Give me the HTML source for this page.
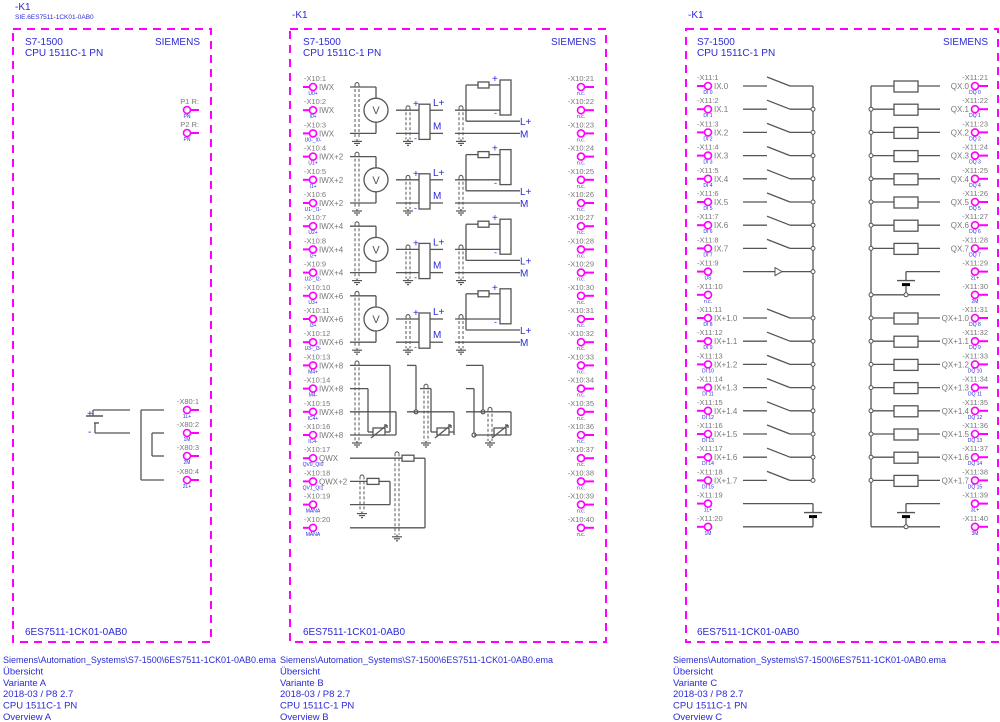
<!DOCTYPE html>
<html><head><meta charset="utf-8"><style>
html,body{margin:0;padding:0;background:#fff}
svg{display:block}
text{font-family:"Liberation Sans",sans-serif}
</style></head><body>
<svg id="s" xmlns="http://www.w3.org/2000/svg" width="1000" height="722" viewBox="0 0 1000 722"></svg>
<script>
const out=[];const B='#2a2ad6',G='#777',W='#555',M='#ff00ff';
function L(a,b,c,d,col,w){out.push(`<line x1="${a}" y1="${b}" x2="${c}" y2="${d}" stroke="${col||W}" stroke-width="${w||1.3}"/>`);}
function T(x,y,t,s,f,a,extra){out.push(`<text x="${x}" y="${y}" font-size="${s}" fill="${f}" text-anchor="${a||'start'}" ${extra||''}>${t}</text>`);}
function C(x,y,r,st,fi,w){out.push(`<circle cx="${x}" cy="${y}" r="${r}" stroke="${st}" fill="${fi||'#fff'}" stroke-width="${w||1.6}"/>`);}
function R(x,y,w,h){out.push(`<rect x="${x}" y="${y}" width="${w}" height="${h}" fill="#fff" stroke="${W}" stroke-width="1.3"/>`);}
function gnd(x,y){L(x,y-2,x,y);L(x-5,y,x+5,y,W,1.2);L(x-3,y+2,x+3,y+2,W,1.2);L(x-1,y+4,x+1,y+4,W,1.2);}
function shield(x,y1,y2){out.push(`<line x1="${x}" y1="${y1}" x2="${x}" y2="${y2}" stroke="${W}" stroke-dasharray="3,2"/><line x1="${x+4}" y1="${y1}" x2="${x+4}" y2="${y2}" stroke="${W}" stroke-dasharray="3,2"/><path d="M${x} ${y1} Q${x+2} ${y1-3} ${x+4} ${y1}" fill="none" stroke="${W}"/>`);gnd(x+2,y2+2);}
function box(x1,y1,x2,y2){out.push(`<rect x="${x1}" y="${y1}" width="${x2-x1}" height="${y2-y1}" fill="none" stroke="${M}" stroke-width="2" stroke-dasharray="8,6"/>`);}
T(15,10,'-K1',10,B);T(15,19,'SIE.6ES7511-1CK01-0AB0',6.5,B);
T(292,18,'-K1',10,B);T(688,18,'-K1',10,B);
box(13,29,211,642);box(290,29,606,642);box(686,29,998,642);
[[25,200],[303,596],[697,988]].forEach(([l,r])=>{T(l,45,'S7-1500',10,B);T(l,56,'CPU 1511C-1 PN',10,B);T(r,45,'SIEMENS',10,B,'end');T(l,635,'6ES7511-1CK01-0AB0',10,B);});
[[3,'A'],[280,'B'],[673,'C']].forEach(([x,v])=>{const ls=['Siemens\\Automation_Systems\\S7-1500\\6ES7511-1CK01-0AB0.ema','Übersicht','Variante '+v,'2018-03 / P8 2.7','CPU 1511C-1 PN','Overview '+v];ls.forEach((t,i)=>T(x,663+i*11.4,t,9.5,B,'start',i==0?'textLength="273" lengthAdjust="spacingAndGlyphs"':''));});
function termR(cx,y,lab,small,xe){L(cx+3.5,y,xe,y,M,2);C(cx,y,3.5,M);T(xe,y-6,lab,7.5,G,'end');T(cx,y+8,small,5,B,'middle');}
termR(187,110,'P1 R:','PN',199);termR(187,133,'P2 R:','PN',199);
const xa=[410,433,456,480],xl=['1L+','1M','2M','2L+'];
xa.forEach((y,i)=>termR(187,y,'-X80:'+(i+1),xl[i],199));
T(87,417,'+',10,B);T(88,435,'-',10,B);
L(93,410,130,410);L(93,410,93,416);L(86,416,103,416,W,1.4);L(94,423,99,423,W,1.4);L(95,423,95,433);L(95,433,130,433);
L(141,410,164,410);L(141,410,141,480);L(141,480,164,480);L(152,433,164,433);L(152,433,152,456);L(152,456,164,456);
const yr=r=>87+(r-1)*23.2;
const bs=['U0+','I0+','U0-_I0-','U1+','I1+','U1-_I1-','U2+','I2+','U2-_I2-','U3+','I3+','U3-_I3-','M4+','M4-','IC4+','IC4-','QV0_QI0','QV1_QI1','MANA','MANA'];
const bn=['IWX','IWX','IWX','IWX+2','IWX+2','IWX+2','IWX+4','IWX+4','IWX+4','IWX+6','IWX+6','IWX+6','IWX+8','IWX+8','IWX+8','IWX+8','QWX','QWX+2','',''];
for(let r=1;r<=20;r++){const y=yr(r);L(303,y,309.5,y,M,2);C(313,y,3.5,M);T(304,y-6,'-X10:'+r,7.5,G);T(313,y+8,bs[r-1],5,B,'middle');T(319,y+3,bn[r-1],8,G);
 const y2=y;L(584.5,y2,594,y2,M,2);C(581,y2,3.5,M);T(594,y2-6,'-X10:'+(r+20),7.5,G,'end');T(581,y2+8,'n.c.',5,B,'middle');}
for(let g=0;g<4;g++){const y1=yr(3*g+1),y2=yr(3*g+2),y3=yr(3*g+3);
 L(350,y1,376,y1);L(376,y1,376,y2-12);C(376,y2,12,W,'#fff',1.3);T(376,y2+4,'V',11,W,'middle');L(376,y2+12,376,y3);L(350,y3,376,y3);shield(355,y1-3,y3+6);
 L(396,y2,419,y2);L(396,y3,419,y3);R(419,y2-6,11,y3-y2+12);L(430,y2,443,y2);L(430,y3,443,y3);T(413,y2-3,'+',10,B);T(414,y3+8,'-',9,B);T(433,y2-4,'L+',10,B);T(433,y3-4,'M',10,B);shield(406,y2-3,y3+6);
 L(455,y2,500,y2);L(455,y3,520,y3);R(500,y1-7,11,35);L(466,y1-2,478,y1-2);R(478,y1-5,11,6);L(489,y1-2,500,y1-2);L(466,y1-2,466,y2+11);L(466,y2+11,520,y2+11);T(492,y1-5,'+',10,B);T(494,y2+6,'-',9,B);T(520,y2+15,'L+',10,B);T(520,y3+4,'M',10,B);shield(459,y2-3,y3+6);}
const a=yr(13),b=yr(14),c=yr(15),d=yr(16);
function rtd(x,y){R(x,y-4,12,7);L(x-2,y+6,x+14,y-7);L(x+14,y-7,x+11,y-7);L(x+14,y-7,x+14,y-4);}
L(350,a,390,a);L(390,a,390,d-3);L(350,b,368,b);L(368,b,368,d-3);L(368,d-3,373,d-3);L(385,d-3,390,d-3);L(350,c,396,c);L(396,c,396,d);L(350,d,396,d);rtd(373,d-3);shield(355,a-3,d+6);
L(407,a,416,a);L(416,a,416,c);C(416,c,2,W,'#fff',1.2);L(407,c,454,c);L(454,c,454,d);L(431,b,431,d-3);L(431,d-3,437,d-3);L(449,d-3,454,d-3);L(420,b,431,b);rtd(437,d-3);shield(424,b-3,d+6);
L(466,a,483,a);L(483,a,483,c);C(483,c,2,W,'#fff',1.2);L(466,b,474,b);L(474,b,474,d);C(474,d,2,W,'#fff',1.2);L(466,c,511,c);L(511,c,511,d);L(474,d,494,d);L(506,d,511,d);rtd(494,d-3);shield(488,c-3,d+6);
const e=yr(17),f=yr(18),h=yr(19),k=yr(20);
L(350,e,402,e);R(402,e-3,12,6);L(414,e,425,e);L(425,e,425,k);L(350,k,425,k);shield(395,e-5,k+7);
L(350,f,367,f);R(367,f-3,12,6);L(379,f,390,f);L(390,f,390,h);L(350,h,390,h);shield(360,f-5,h+7);
const yc=r=>86+(r-1)*23.2;
const dl=['DI 0','DI 1','DI 2','DI 3','DI 4','DI 5','DI 6','DI 7','US','n.c.','DI 8','DI 9','DI 10','DI 11','DI 12','DI 13','DI 14','DI 15','1L+','1M'];
const dn=['IX.0','IX.1','IX.2','IX.3','IX.4','IX.5','IX.6','IX.7','','','IX+1.0','IX+1.1','IX+1.2','IX+1.3','IX+1.4','IX+1.5','IX+1.6','IX+1.7','',''];
const ql=['DQ 0','DQ 1','DQ 2','DQ 3','DQ 4','DQ 5','DQ 6','DQ 7','2L+','2M','DQ 8','DQ 9','DQ 10','DQ 11','DQ 12','DQ 13','DQ 14','DQ 15','3L+','3M'];
const qn=['QX.0','QX.1','QX.2','QX.3','QX.4','QX.5','QX.6','QX.7','','','QX+1.0','QX+1.1','QX+1.2','QX+1.3','QX+1.4','QX+1.5','QX+1.6','QX+1.7','',''];
L(813,yc(1),813,yc(18));L(871,yc(1),871,yc(20));
for(let r=1;r<=20;r++){const y=yc(r);L(697,y,704.5,y,M,2);C(708,y,3.5,M);T(697,y-6,'-X11:'+r,7.5,G);T(708,y+8,dl[r-1],5,B,'middle');T(714,y+3,dn[r-1],8,G);
 L(978.5,y,988,y,M,2);C(975,y,3.5,M);T(988,y-6,'-X11:'+(r+20),7.5,G,'end');T(975,y+8,ql[r-1],5,B,'middle');T(969,y+3,qn[r-1],8,G,'end');
 if(dn[r-1]){L(743,y,767,y);L(767,y-9,790,y);L(790,y,813,y);if(r>1)C(813,y,2,W,'#fff',1);}
 if(qn[r-1]){L(871,y,894,y);R(894,y-5,24,11);L(918,y,940,y);if(r>1)C(871,y,2,W,'#fff',1);}}
const y9=yc(9);L(743,y9,813,y9);out.push(`<path d="M775 ${y9-4} L782 ${y9} L775 ${y9+4} Z" fill="#fff" stroke="${W}"/>`);C(813,y9,2,W,'#fff',1);
function batt(x,yt,yb){L(x,yt,x,yt+9);L(x-9,yt+9,x+9,yt+9,W,1.4);L(x-4,yt+13,x+4,yt+13,'#000',3);L(x,yt+14,x,yb);}
const y29=yc(9),y30=yc(10);L(940,y29,906,y29);batt(906,y29,y30);L(871,y30,940,y30);C(906,y30,2,W,'#fff',1);C(871,y30,2,W,'#fff',1);
const y19=yc(19),y20=yc(20);L(743,y19,813,y19);batt(813,y19,y20);L(743,y20,813,y20);
L(940,y19,906,y19);batt(906,y19,y20);L(871,y20,940,y20);C(906,y20,2,W,'#fff',1);
document.getElementById('s').innerHTML=out.join('');
</script>
</body></html>
